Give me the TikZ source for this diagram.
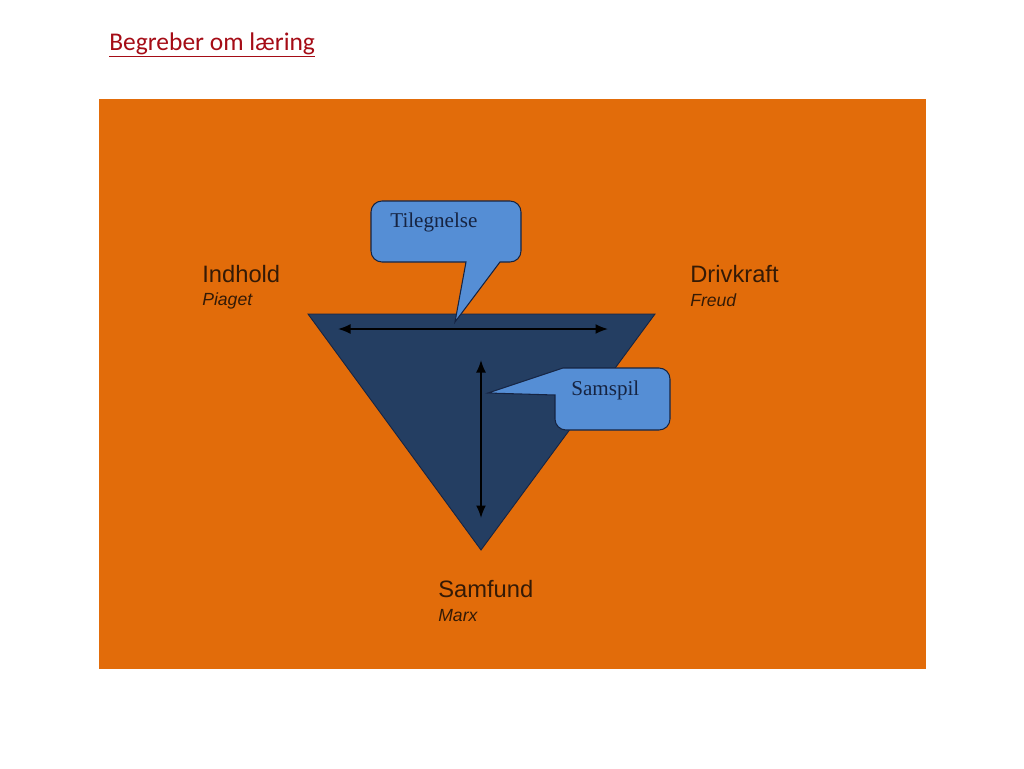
\documentclass[tikz,border=0pt]{standalone}
\usepackage{fontspec}
\setmainfont{Liberation Serif}
\newfontfamily\titlefont{Carlito}
\newfontfamily\labelfont{Liberation Sans}
\usetikzlibrary{arrows.meta}
\definecolor{qorange}{RGB}{226,108,10}
\definecolor{qnavy}{RGB}{36,62,98}
\definecolor{qsky}{RGB}{85,142,213}
\definecolor{qink}{RGB}{22,36,66}
\definecolor{qbrown}{RGB}{52,26,6}
\definecolor{qred}{RGB}{165,12,22}

\tikzset{
  heading/.style={font=\labelfont\fontsize{13.5}{15}\selectfont, text=qbrown, anchor=base west, inner sep=0},
  thinker/.style={font=\labelfont\itshape\fontsize{10}{12}\selectfont, text=qbrown, anchor=base west, inner sep=0},
  bubble/.style={fill=qsky, draw=qink, line width=0.6pt},
  bubbletext/.style={font=\fontsize{12}{14}\selectfont, text=qink, inner sep=0},
  twoway/.style={{Latex[length=2.5mm,width=2mm]}-{Latex[length=2.5mm,width=2mm]}, line width=1pt},
}

\begin{document}
\begin{tikzpicture}[x=0.02cm, y=-0.02cm]
\useasboundingbox[fill=white] (0,0) rectangle (1024,768);

\node[font=\titlefont\fontsize{14.5}{16}\selectfont, text=qred, anchor=base west, inner sep=0] (title) at (109,50) {\underline{Begreber om læring}};

\fill[qorange] (99,99) rectangle (926,669);

% triangle
\coordinate (tl) at (308,314);
\coordinate (tr) at (655,314);
\coordinate (tb) at (481,550);
\fill[qnavy] (tl) -- (tr) -- (tb) -- cycle;
\draw[qink, line width=0.5pt] (tl) -- (tr) -- (tb) -- cycle;

% arrows
\coordinate (hl) at (338,329);
\coordinate (hr) at (608,329);
\coordinate (vt) at (481,360);
\coordinate (vb) at (481,518);
\draw[twoway] (hl) -- (hr);
\draw[twoway] (vt) -- (vb);

% callouts
\draw[bubble] (455,322) -- (500,262) [rounded corners=0.22cm] -- (521,262) -- (521,201) -- (371,201) -- (371,262) [sharp corners] -- (466,262) -- cycle;
\node[bubbletext, anchor=base west] (tileg) at (390,227) {Tilegnelse};

\draw[bubble] (488,393) -- (555,395) [rounded corners=0.22cm] -- (555,430) -- (670,430) -- (670,368) [sharp corners] -- (563,368) -- cycle;
\node[bubbletext, anchor=base west] (samspil) at (571,395) {Samspil};

% corners
\node[heading] (indhold) at (202,282) {Indhold};
\node[thinker] (piaget) at (202,305) {Piaget};
\node[heading] (drivkraft) at (690,282) {Drivkraft};
\node[thinker] (freud) at (690,306) {Freud};
\node[heading] (samfund) at (438,597) {Samfund};
\node[thinker] (marx) at (438,621) {Marx};

\end{tikzpicture}
\end{document}
